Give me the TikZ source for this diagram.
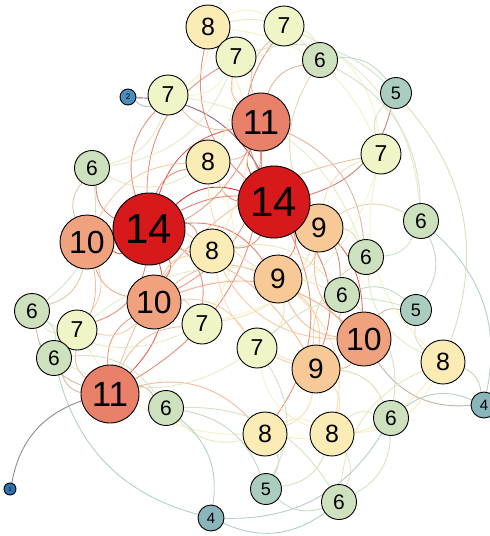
\documentclass[tikz,border=0pt]{standalone}
\usepackage{fontspec}
\setmainfont{Liberation Sans}
\usetikzlibrary{backgrounds}
\definecolor{c14}{HTML}{D7191C}
\definecolor{c11}{HTML}{E8806A}
\definecolor{c10}{HTML}{F0A27E}
\definecolor{c9}{HTML}{F6C997}
\definecolor{c8}{HTML}{FBEBB5}
\definecolor{c7}{HTML}{EFF5C6}
\definecolor{c6}{HTML}{CEE1BF}
\definecolor{c5}{HTML}{ABCDC0}
\definecolor{c4}{HTML}{8AB5BA}
\definecolor{c2}{HTML}{4A8CBC}
\definecolor{c1}{HTML}{2C73B2}
\tikzset{
  nd/.style={circle, draw=black, line width=0.9pt, inner sep=0pt},
  d14/.style={nd, fill=c14, minimum size=72pt, font=\fontsize{42}{42}\selectfont},
  d11/.style={nd, fill=c11, minimum size=58pt, font=\fontsize{35}{35}\selectfont},
  d10/.style={nd, fill=c10, minimum size=54pt, font=\fontsize{32}{32}\selectfont},
  d9/.style={nd, fill=c9, minimum size=48pt, font=\fontsize{28}{28}\selectfont},
  d8/.style={nd, fill=c8, minimum size=44pt, font=\fontsize{25}{25}\selectfont},
  d7/.style={nd, fill=c7, minimum size=40pt, font=\fontsize{23}{23}\selectfont},
  d6/.style={nd, fill=c6, minimum size=35pt, font=\fontsize{21}{21}\selectfont},
  d5/.style={nd, fill=c5, minimum size=31pt, font=\fontsize{18}{18}\selectfont},
  d4/.style={nd, fill=c4, minimum size=26pt, font=\fontsize{15}{15}\selectfont},
  d2/.style={nd, fill=c2, minimum size=16pt, font=\fontsize{8}{8}\selectfont},
  d1/.style={nd, fill=c1, minimum size=12pt, font=\fontsize{6}{6}\selectfont},
  lnk/.style={line width=0.9pt, draw opacity=0.9},
}
\def\ncola{c8}\def\ncolb{c7}\def\ncolc{c7}\def\ncold{c6}\def\ncole{c5}
\def\ncolf{c2}\def\ncolg{c7}\def\ncolh{c11}\def\ncoli{c7}\def\ncolj{c8}
\def\ncolk{c6}\def\ncolL{c14}\def\ncolM{c14}\def\ncoln{c9}\def\ncolo{c6}
\def\ncolp{c10}\def\ncolq{c8}\def\ncolr{c6}\def\ncols{c9}\def\ncolt{c6}
\def\ncolu{c10}\def\ncolv{c5}\def\ncolw{c6}\def\ncolx{c7}\def\ncoly{c7}
\def\ncolz{c10}\def\ncolA{c7}\def\ncolB{c6}\def\ncolC{c9}\def\ncolD{c8}
\def\ncolE{c11}\def\ncolF{c6}\def\ncolG{c4}\def\ncolH{c8}\def\ncolI{c8}
\def\ncolJ{c6}\def\ncolK{c1}\def\ncolN{c5}\def\ncolO{c6}\def\ncolP{c4}
\begin{document}
\begin{tikzpicture}[x=1pt,y=-1pt]
\useasboundingbox (0,0) rectangle (490,536);
% nodes
\node[d8] (a) at (208,27) {8};
\node[d7] (b) at (284,26) {7};
\node[d7] (c) at (236,57) {7};
\node[d6] (d) at (320,60) {6};
\node[d5] (e) at (396,93) {5};
\node[d2] (f) at (128,97) {2};
\node[d7] (g) at (168,95) {7};
\node[d11] (h) at (261,122) {11};
\node[d7] (i) at (381,154) {7};
\node[d8] (j) at (208,162) {8};
\node[d6] (k) at (92,168) {6};
\node[d9] (n) at (319,228) {9};
\node[d14] (L) at (149,229) {14};
\node[d14] (M) at (274,202) {14};
\node[d6] (o) at (421,221) {6};
\node[d10] (p) at (87,242) {10};
\node[d8] (q) at (212,251) {8};
\node[d6] (r) at (366,257) {6};
\node[d9] (s) at (278,279) {9};
\node[d6] (t) at (342,295) {6};
\node[d10] (u) at (154,302) {10};
\node[d5] (v) at (416,310) {5};
\node[d6] (w) at (32,311) {6};
\node[d7] (x) at (202,324) {7};
\node[d7] (y) at (77,330) {7};
\node[d10] (z) at (364,339) {10};
\node[d7] (A) at (257,348) {7};
\node[d6] (B) at (54,358) {6};
\node[d9] (C) at (316,369) {9};
\node[d8] (D) at (443,362) {8};
\node[d11] (E) at (110,394) {11};
\node[d6] (F) at (166,408) {6};
\node[d4] (G) at (484,405) {4};
\node[d8] (H) at (265,434) {8};
\node[d8] (I) at (332,434) {8};
\node[d6] (J) at (391,418) {6};
\node[d1] (K) at (10,489) {1};
\node[d5] (N) at (266,489) {5};
\node[d6] (O) at (339,502) {6};
\node[d4] (P) at (211,518) {4};
% links
\begin{pgfonlayer}{background}
\fill[white] (0,0) rectangle (490,536);
\foreach \ea/\eb in {
L/p, L/k, L/g, L/h, L/M, L/j, L/q, L/u, L/x, L/E, L/y, L/s, L/c, L/n,
f/M, M/h, M/n, M/s, M/q, M/j, M/a, M/b, e/M, M/t, M/z, M/C, M/H,
h/g, h/c, h/b, h/d, h/j, h/u, h/p, h/r, h/E,
K/E, E/y, E/B, E/w, E/u, E/F, E/H, E/x, E/i,
u/p, u/q, u/y, u/x, u/s, u/A, u/z,
p/k, p/w, p/y, p/B, p/q, p/j, p/C,
G/z, z/s, z/t, z/v, z/C, z/n, z/q, z/A,
n/o, n/r, n/i, n/x, n/s, n/d,
s/C, s/A, s/I, s/j,
C/J, C/H, C/I, C/q, C/r,
a/c, a/b, a/g, a/j, a/d, a/i, a/q,
j/k, j/x, q/t,
D/G, e/D, D/v, D/i, D/I, O/D, D/H, D/r,
H/N, H/I, H/F, H/y,
I/N, I/J, I/A, I/O,
b/c, b/d, b/o, b/i,
c/e, c/g, c/k,
g/f, g/k, g/r,
i/e, i/x,
x/w, y/w, y/t,
A/N, A/B, A/v,
d/e, d/o, k/w,
o/G, o/r, o/v,
t/v, t/J,
w/B, P/B, B/F, F/P, F/N, F/O,
J/P, J/O, J/G, O/N, O/P}{
  \edef\ecol{\csname ncol\ea\endcsname!50!\csname ncol\eb\endcsname}
  \draw[lnk, draw=\ecol] (\ea) to[bend left=30] (\eb);
}
\end{pgfonlayer}
\end{tikzpicture}
\end{document}
